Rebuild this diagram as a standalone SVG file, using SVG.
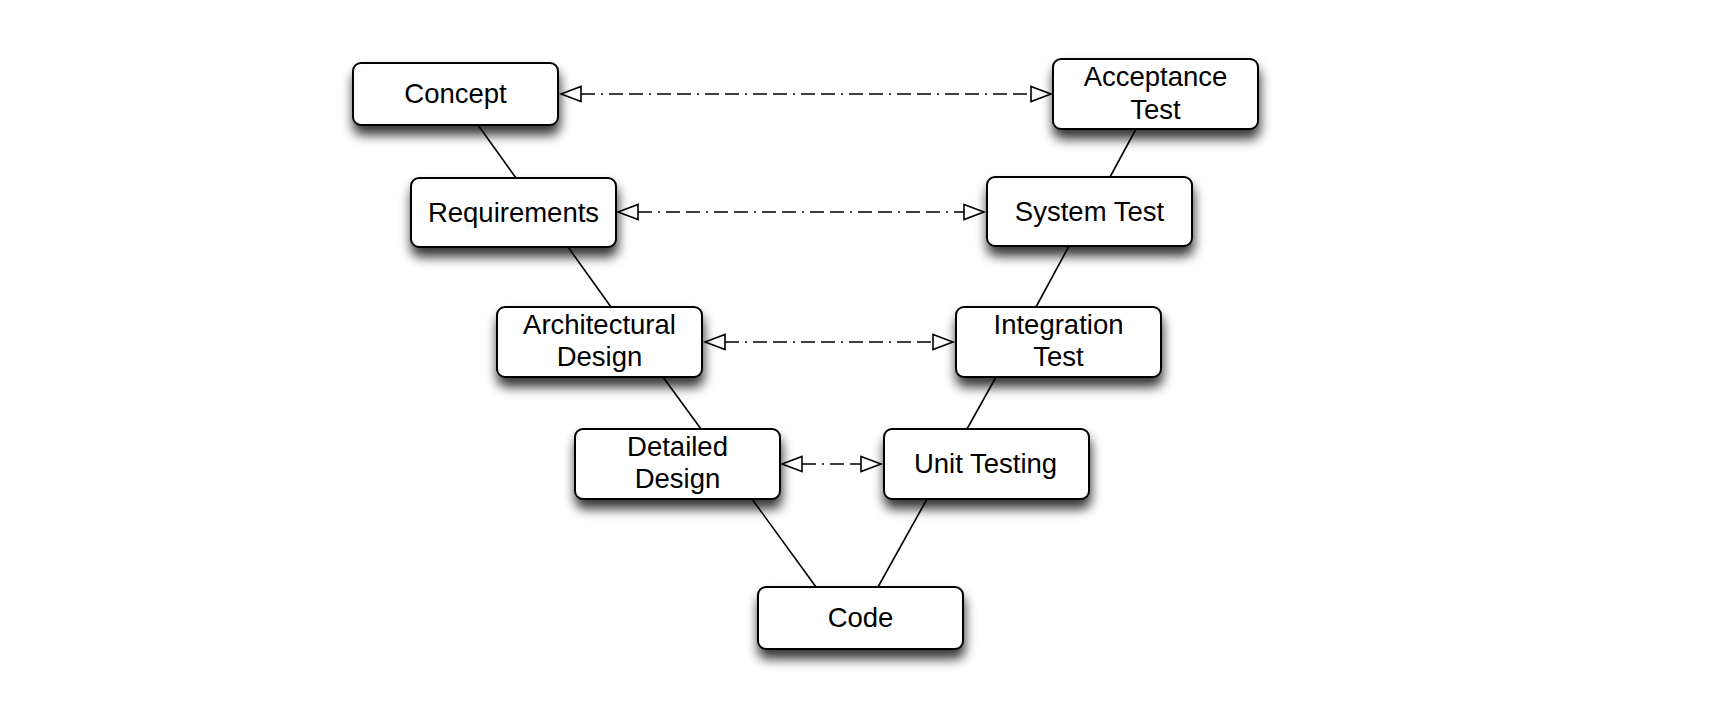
<svg xmlns="http://www.w3.org/2000/svg" width="1717" height="714" viewBox="0 0 1717 714">
  <defs>
    <filter id="shadow" x="-20%" y="-30%" width="140%" height="190%">
      <feGaussianBlur in="SourceAlpha" stdDeviation="6"/>
      <feOffset dx="1" dy="9" result="b"/>
      <feComponentTransfer><feFuncA type="linear" slope="0.8"/></feComponentTransfer>
      <feMerge><feMergeNode/><feMergeNode in="SourceGraphic"/></feMerge>
    </filter>
    <marker id="tri" markerUnits="userSpaceOnUse" markerWidth="24" markerHeight="20" viewBox="-1 -9 24 18" refX="20" refY="0" orient="auto-start-reverse">
      <path d="M0,-7.5 L20,0 L0,7.5 Z" fill="#fff" stroke="#000" stroke-width="1.6"/>
    </marker>
  </defs>
  <style>
    .box { fill: #fff; stroke: #000; stroke-width: 2; filter: url(#shadow); }
    .lbl { font-family: "Liberation Sans", Arial, sans-serif; font-size: 27.5px; fill: #000; text-anchor: middle; }
    .link { stroke: #000; stroke-width: 1.6; fill: none; }
    .trace { stroke: #000; stroke-width: 1.7; fill: none; stroke-dasharray: 14 6 14 6 2 6; marker-start: url(#tri); marker-end: url(#tri); }
  </style>
  <rect width="1717" height="714" fill="#fff"/>
  <g id="connectors">
    <line class="link" x1="478" y1="125" x2="516" y2="178"/>
    <line class="link" x1="568" y1="247" x2="611" y2="307"/>
    <line class="link" x1="663" y1="377" x2="701" y2="429"/>
    <line class="link" x1="752" y1="499" x2="816" y2="587"/>
    <line class="link" x1="927" y1="499" x2="878" y2="587"/>
    <line class="link" x1="996" y1="377" x2="967" y2="429"/>
    <line class="link" x1="1069" y1="246" x2="1036" y2="307"/>
    <line class="link" x1="1136" y1="129" x2="1110" y2="177"/>
    <line class="trace" x1="561" y1="94" x2="1051" y2="94"/>
    <line class="trace" x1="618" y1="212" x2="984" y2="212"/>
    <line class="trace" x1="705" y1="342" x2="953" y2="342"/>
    <line class="trace" x1="782" y1="464" x2="881" y2="464"/>
  </g>
  <g id="concept">
    <rect class="box" x="353" y="63" width="205" height="62" rx="8"/>
    <text class="lbl" x="455.5" y="103">Concept</text>
  </g>
  <g id="acceptance-test">
    <rect class="box" x="1053" y="59" width="205" height="70" rx="8"/>
    <text class="lbl" x="1155.5" y="86">Acceptance</text>
    <text class="lbl" x="1155.5" y="118.5">Test</text>
  </g>
  <g id="requirements">
    <rect class="box" x="411" y="178" width="205" height="69" rx="8"/>
    <text class="lbl" x="513.5" y="222">Requirements</text>
  </g>
  <g id="system-test">
    <rect class="box" x="987" y="177" width="205" height="69" rx="8"/>
    <text class="lbl" x="1089.5" y="220.5">System Test</text>
  </g>
  <g id="architectural-design">
    <rect class="box" x="497" y="307" width="205" height="70" rx="8"/>
    <text class="lbl" x="599.5" y="333.5">Architectural</text>
    <text class="lbl" x="599.5" y="366">Design</text>
  </g>
  <g id="integration-test">
    <rect class="box" x="956" y="307" width="205" height="70" rx="8"/>
    <text class="lbl" x="1058.5" y="333.5">Integration</text>
    <text class="lbl" x="1058.5" y="366">Test</text>
  </g>
  <g id="detailed-design">
    <rect class="box" x="575" y="429" width="205" height="70" rx="8"/>
    <text class="lbl" x="677.5" y="455.5">Detailed</text>
    <text class="lbl" x="677.5" y="488">Design</text>
  </g>
  <g id="unit-testing">
    <rect class="box" x="884" y="429" width="205" height="70" rx="8"/>
    <text class="lbl" x="985.5" y="473">Unit Testing</text>
  </g>
  <g id="code">
    <rect class="box" x="758" y="587" width="205" height="62" rx="8"/>
    <text class="lbl" x="860.5" y="626.5">Code</text>
  </g>
</svg>
